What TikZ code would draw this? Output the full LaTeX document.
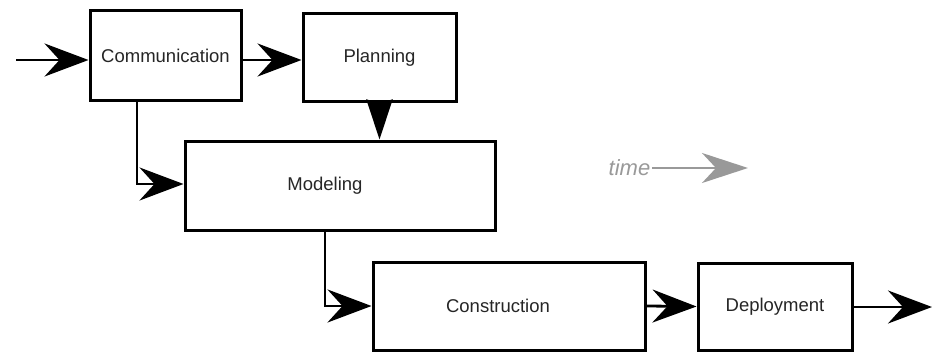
\documentclass[tikz,border=0pt]{standalone}
\usepackage{fontspec}
\setmainfont{Liberation Sans}
\usetikzlibrary{arrows.meta,calc}
\begin{document}
\begin{tikzpicture}[x=1pt,y=-1pt,
  phase/.style={draw=black,line width=3pt,fill=white,inner sep=0pt,
    font=\fontsize{18.5}{22}\selectfont,text=black!85},
  flow/.style={line width=2.8pt,-{Stealth[length=44pt,width=33pt,inset=15pt]}},
  drop/.style={line width=2.8pt,-{Stealth[length=40pt,width=26pt,inset=4pt]}},
  timeline/.style={draw=black!40,line width=2.8pt,
    -{Stealth[length=46pt,width=30pt,inset=14pt]}}]
\useasboundingbox (0,0) rectangle (932,361);

% process phases
\node[phase,minimum width=151pt,minimum height=89pt] (comm) at (165.5,55.5) {Communication};
\node[phase,minimum width=153pt,minimum height=87pt] (plan) at (379.5,57.5) {Planning};
\node[phase,minimum width=310pt,minimum height=89pt] (model) at (340,185.5) {Modeling\hspace*{30pt}};
\node[phase,minimum width=272pt,minimum height=88pt] (constr) at (509,306) {Construction\hspace*{22pt}};
\node[phase,minimum width=154pt,minimum height=87pt] (deploy) at (775,306.5) {Deployment};

% loose ends of the flow
\coordinate (in) at (16,60);
\coordinate (out) at (932,307);

% flow between phases
\draw[flow] (in) -- (in -| comm.west);
\draw[flow] (comm.east |- in) -- (plan.west |- in);
\draw[drop] (plan.south) -- (plan.south |- model.north);
\draw[flow] ([xshift=-28.5pt]comm.south) |- ([yshift=1.5pt]model.west);
\draw[flow] ([xshift=-15pt]model.south) |- (constr.west);
\draw[flow] (constr.east) -- (deploy.west);
\draw[flow] (deploy.east |- out) -- (out);

% time direction
\node[text=black!40,font=\itshape\fontsize{22}{26}\selectfont,inner sep=0pt] (time) at (629.5,168) {time};
\coordinate (timeend) at (748,168);
\draw[timeline] ([xshift=2pt]time.east) -- (timeend);
\end{tikzpicture}
\end{document}
